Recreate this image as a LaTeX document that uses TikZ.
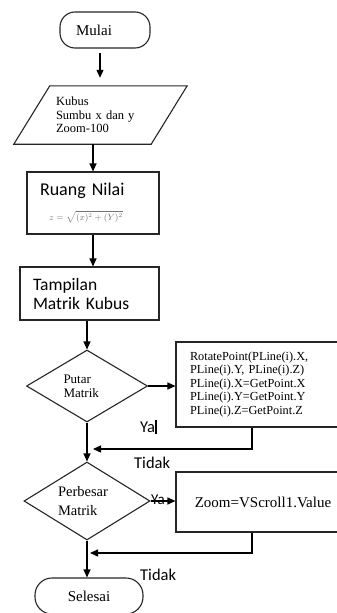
\documentclass[tikz,border=0pt]{standalone}
\usepackage{fontspec}
\setmainfont{Liberation Serif}
\newfontfamily\calfont{Carlito}
\usetikzlibrary{shapes.geometric,arrows.meta}
\begin{document}
\begin{tikzpicture}[x=1pt,y=-1pt,
 shapeline/.style={draw=black!85, line width=1.1pt},
 term/.style={shapeline, rectangle, rounded corners=15pt, minimum width=90pt, minimum height=36pt, inner sep=0pt, font=\fontsize{15}{17}\selectfont},
 procbox/.style={shapeline, rectangle, inner sep=0pt},
 decision/.style={shapeline, diamond, inner sep=0pt},
 arr/.style={line width=1.2pt, -{Triangle[length=8pt,width=7pt]}},
 lbl/.style={font=\calfont\fontsize{16.5}{19}\selectfont, inner sep=0pt},
]
\useasboundingbox (0,0) rectangle (337,613);
\clip (0,0) rectangle (337,613);
\fill[white] (0,0) rectangle (337,613);

\node[term] (start) at (105,30) {Mulai\kern22pt};

\node[minimum width=173pt, minimum height=58pt, inner sep=0pt, text width=89pt, align=left, font=\fontsize{12.5}{13.5}\selectfont] (inp) at (100.5,115) {Kubus\\Sumbu x dan y\\Zoom-100};
\draw[shapeline] ([xshift=36pt]inp.north west) -- (inp.north east) -- ([xshift=-36pt]inp.south east) -- (inp.south west) -- cycle;

\node[procbox, minimum width=132pt, minimum height=62pt, text width=106pt, align=left, font=\calfont\fontsize{18}{20}\selectfont] (ruang) at (93,203) {Ruang Nilai\\[5pt]\hspace*{9pt}{\color{black!55}\fontsize{9}{10}\selectfont$z=\sqrt{(x)^2+(Y)^2}$}};

\node[procbox, minimum width=139pt, minimum height=53pt, text width=113pt, align=left, font=\calfont\fontsize{17.5}{19}\selectfont] (tampil) at (89.5,293.5) {Tampilan\\Matrik Kubus};

\node[decision, minimum width=121pt, minimum height=72pt, aspect=1.68, text width=47pt, align=left, font=\fontsize{13}{14}\selectfont] (d1) at (87,386) {Putar\\Matrik};

\node[procbox, minimum width=169pt, minimum height=85pt, text width=141pt, align=left, font=\fontsize{12.3}{13.5}\selectfont] (rot) at (260.5,384.5) {RotatePoint(PLine(i).X,\\PLine(i).Y, PLine(i).Z)\\PLine(i).X=GetPoint.X\\PLine(i).Y=GetPoint.Y\\PLine(i).Z=GetPoint.Z};

\node[decision, minimum width=126pt, minimum height=78pt, aspect=1.6, text width=58pt, align=left, font=\fontsize{14.5}{19}\selectfont] (d2) at (87,501) {Perbesar\\Matrik};

\node[procbox, minimum width=169pt, minimum height=60pt, font=\fontsize{15}{17}\selectfont] (zoom) at (260.5,502) {\kern5pt Zoom=VScroll1.Value};

\node[term, minimum width=108pt, rounded corners=17pt] (stop) at (89,596) {Selesai};

\draw[arr, shorten <=4pt, shorten >=8pt] ([xshift=-5pt]start.south) -- ([xshift=-5pt]start.south |- inp.north);
\draw[arr] (inp.south -| ruang.north) -- (ruang.north);
\draw[arr] (ruang.south) -- (ruang.south |- tampil.north);
\draw[arr] (tampil.south -| d1.north) -- (d1.north);
\draw[arr] (d1.east) -- (d1.east -| rot.west);
\coordinate (j1) at (87,449);
\draw[arr, shorten >=6pt] ([xshift=-8.5pt]rot.south) |- (j1);
\draw[arr] (d1.south) -- (d2.north);
\draw[arr] (d2.east) -- (d2.east -| zoom.west);
\coordinate (j2) at (87,553);
\draw[arr, shorten >=3pt] ([xshift=-8.5pt]zoom.south) |- (j2);
\draw[arr] (d2.south) -- (d2.south |- stop.north);

\node[lbl, anchor=west] (ya1) at (140,427) {Ya\rule[-2pt]{1.6pt}{14pt}};
\node[lbl, anchor=west] (tidak1) at (134,463) {Tidak};
\node[lbl, anchor=west, font=\calfont\fontsize{15}{17}\selectfont] (ya2) at (151,500) {Ya};
\node[lbl, anchor=west] (tidak2) at (140,575) {Tidak};
\end{tikzpicture}
\end{document}
